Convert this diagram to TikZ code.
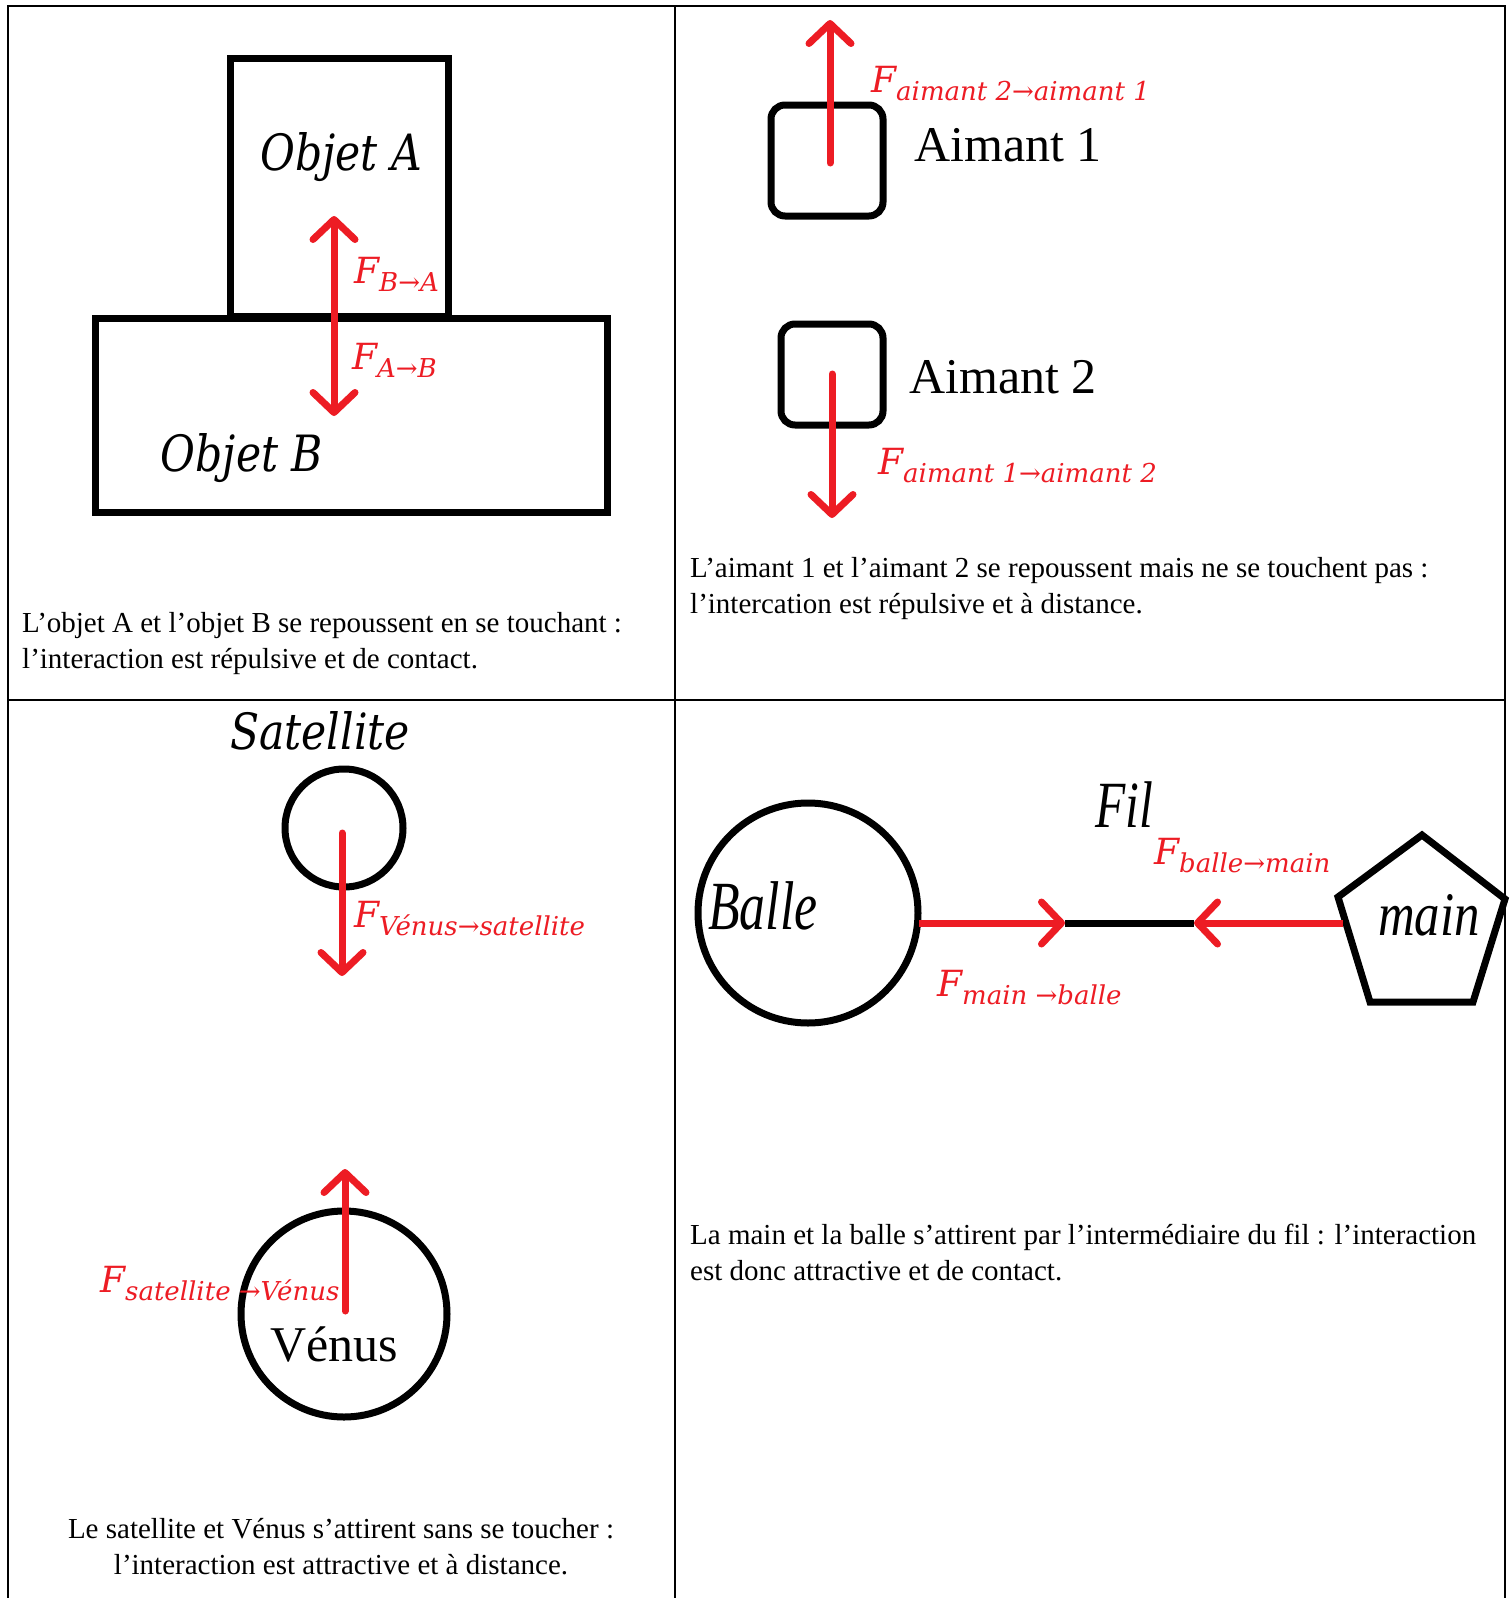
\documentclass[tikz,border=0pt]{standalone}
\usepackage{fontspec}
\setmainfont{Liberation Serif}
\newfontfamily\dvs{DejaVu Serif}
\newfontfamily\dvsc[FakeStretch=0.85]{DejaVu Serif}
\newfontfamily\lsc[FakeStretch=0.75]{Liberation Serif}
\newfontfamily\lsm[FakeStretch=0.82]{Liberation Serif}
\usetikzlibrary{arrows.meta}
\definecolor{fred}{HTML}{ED1C24}
\newcommand{\Flab}[1]{{\fontsize{36}{36}\selectfont\dvs\itshape F}\raisebox{-8pt}{\fontsize{26}{26}\selectfont\dvs\itshape #1}}
\begin{document}
\begin{tikzpicture}[x=1pt,y=-1pt,
  gridline/.style={line width=2pt,black},
  bshape/.style={draw,line width=7pt,black,inner sep=0pt},
  force/.style={line width=7pt,fred,line cap=round,-{Straight Barb[length=20pt,width=42pt,round]}},
  flabel/.style={text=fred,anchor=base west,inner sep=0pt},
  caption/.style={font=\fontsize{29}{36}\selectfont,align=left,anchor=base west,inner sep=0pt},
  itlabel/.style={font=\fontsize{50}{50}\selectfont\dvsc\itshape,inner sep=0pt},
  uplabel/.style={font=\fontsize{50}{50}\selectfont,inner sep=0pt}]
\fill[white] (0,0) rectangle (1511,1598);
\useasboundingbox (0,0) rectangle (1511,1598);
% grid
\draw[gridline] (8,1598) -- (8,6) -- (1505,6) -- (1505,1598);
\draw[gridline] (675,6) -- (675,1598);
\draw[gridline] (8,700) -- (1505,700);

% ---------- panel 1
\node[bshape,minimum width=512pt,minimum height=194pt] (objB) at (351,415) {};
\node[bshape,minimum width=218pt,minimum height=258pt] (objA) at (339,187) {};
\node[itlabel,anchor=base] (tObjA) at (341,170) {Objet A};
\node[itlabel,anchor=base] (tObjB) at (242,471) {Objet B};
\coordinate (c1) at (334,316);
\coordinate (tA) at (334,216);
\coordinate (tB) at (334,416);
\draw[force] (c1) -- (tA);
\draw[force] (c1) -- (tB);
\node[flabel] (lBA) at (354,283) {\Flab{B→A}};
\node[flabel] (lAB) at (352,369) {\Flab{A→B}};
\node[caption] (cap1) at (22,668) {L’objet A et l’objet B se repoussent en se touchant :\\l’interaction est répulsive et de contact.};

% ---------- panel 2
\node[bshape,rounded corners=14pt,minimum width=112pt,minimum height=111pt] (aim1) at (827,160.5) {};
\node[bshape,rounded corners=14pt,minimum width=102pt,minimum height=101pt] (aim2) at (832,374.5) {};
\coordinate (a1s) at (830,163);
\coordinate (a1t) at (830,20);
\coordinate (a2s) at (832,374);
\coordinate (a2t) at (832,518);
\draw[force] (a1s) -- (a1t);
\draw[force] (a2s) -- (a2t);
\node[flabel] (l21) at (871,92) {\Flab{aimant 2→aimant 1}};
\node[flabel] (l12) at (878,474) {\Flab{aimant 1→aimant 2}};
\node[uplabel,anchor=base west] (tAim1) at (914,161) {Aimant 1};
\node[uplabel,anchor=base west] (tAim2) at (909,393) {Aimant 2};
\node[caption] (cap2) at (690,613) {L’aimant 1 et l’aimant 2 se repoussent mais ne se touchent pas :\\l’intercation est répulsive et à distance.};

% ---------- panel 3
\node[itlabel,anchor=base] (tSat) at (320,749) {Satellite};
\node[bshape,circle,minimum size=118pt] (sat) at (344,828) {};
\node[bshape,circle,minimum size=206pt] (ven) at (344,1314) {};
\coordinate (s1) at (342,833);
\coordinate (s2) at (342,976);
\coordinate (v1) at (345,1311);
\coordinate (v2) at (345,1169);
\draw[force] (s1) -- (s2);
\draw[force] (v1) -- (v2);
\node[flabel] (lVS) at (354,927) {\Flab{Vénus→satellite}};
\node[flabel] (lSV) at (100,1292) {\Flab{satellite →Vénus}};
\node[uplabel,anchor=base] (tVen) at (334,1361) {Vénus};
\node[caption,align=center,anchor=base] (cap3) at (341,1574) {Le satellite et Vénus s’attirent sans se toucher :\\l’interaction est attractive et à distance.};

% ---------- panel 4
\node[bshape,circle,minimum size=220pt] (balle) at (808,913) {};
\node[inner sep=0pt,anchor=base west,font=\fontsize{69}{69}\selectfont\lsc\itshape] (tBalle) at (708,929) {Balle};
\node[inner sep=0pt,anchor=base west,font=\fontsize{66}{66}\selectfont\lsc\itshape] (tFil) at (1095,827) {Fil};
\coordinate (p1) at (1422,835);
\coordinate (p2) at (1505,899);
\coordinate (p3) at (1473,1002);
\coordinate (p4) at (1370,1002);
\coordinate (p5) at (1338,897);
\draw[line width=7pt,black,line join=miter] (p1) -- (p2) -- (p3) -- (p4) -- (p5) -- cycle;
\node[inner sep=0pt,anchor=base west,font=\fontsize{62}{62}\selectfont\lsm\itshape] (tMain) at (1378,935) {main};
\coordinate (bR) at (919,923);
\coordinate (f1) at (1065,923);
\coordinate (f2) at (1194,923);
\coordinate (mL) at (1343,923);
\draw[line width=7pt,black] (f1) -- (f2);
\draw[force,line cap=butt] (bR) -- (f1);
\draw[force,line cap=butt] (mL) -- (f2);
\node[flabel] (lBM) at (1154,864) {\Flab{balle→main}};
\node[flabel] (lMB) at (937,996) {\Flab{main →balle}};
\node[caption] (cap4) at (690,1280) {La main et la balle s’attirent par l’intermédiaire du fil : l’interaction\\est donc attractive et de contact.};
\end{tikzpicture}
\end{document}
